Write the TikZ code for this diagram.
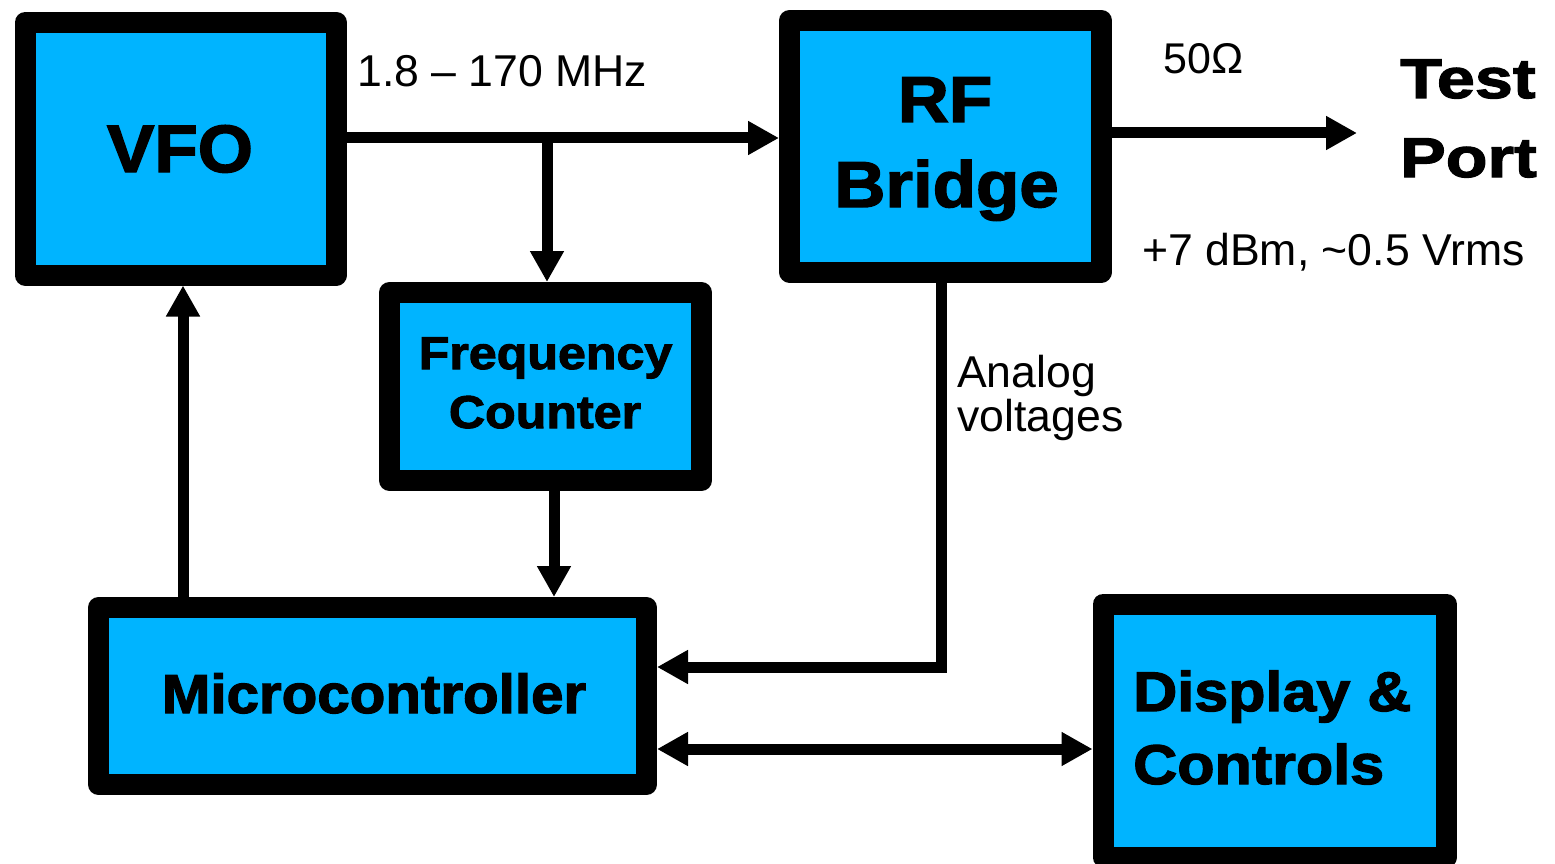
\documentclass[tikz,border=0pt]{standalone}
\usepackage{fontspec}
\setmainfont{Liberation Sans}
\newfontfamily\hvy{Liberation Sans Bold}[FakeStretch=1.06,FakeBold=2.2]
\newfontfamily\hvym{Liberation Sans Bold}[FakeStretch=1.09,FakeBold=2.2]
\newfontfamily\hvyw{Liberation Sans Bold}[FakeStretch=1.22,FakeBold=2.2]
\usetikzlibrary{arrows.meta,calc}
\definecolor{boxcyan}{RGB}{0,180,255}
\begin{document}
\begin{tikzpicture}[x=1pt,y=-1pt,
  blk/.style={draw=black, fill=boxcyan, line width=21pt, line join=round, rectangle, inner sep=0pt},
  conn/.style={line width=11pt, -{Triangle[length=31pt,width=32pt]}},
  dconn/.style={line width=11pt, {Triangle[length=31pt,width=32pt]}-{Triangle[length=31pt,width=32pt]}},
  hv/.style={inner sep=0pt, text=black},
  lbl/.style={inner sep=0pt, text=black, font=\fontsize{44.6}{50}\selectfont},
]
\useasboundingbox (0,0) rectangle (1555,864);
\clip (0,0) rectangle (1555,864);
\fill[white] (0,0) rectangle (1555,864);

% boxes
\node[blk, minimum width=311.5pt, minimum height=252.5pt] (vfo) at (180.75,148.75) {};
\node[blk, minimum width=312pt, minimum height=251.5pt] (rf) at (945.5,146.25) {};
\node[blk, minimum width=312pt, minimum height=188pt] (fc) at (545.5,386.5) {};
\node[blk, minimum width=548pt, minimum height=177pt] (mc) at (372.5,696) {};
\node[blk, minimum width=343.5pt, minimum height=253pt] (dc) at (1274.75,730.5) {};

% box texts
\node[hv, anchor=base, font=\hvy\fontsize{67}{67}\selectfont] (vfoT) at (180,172) {VFO};
\node[hv, anchor=base, font=\hvym\fontsize{65}{65}\selectfont] (rfT1) at (945,122) {RF};
\node[hv, anchor=base, font=\hvym\fontsize{65}{65}\selectfont] (rfT2) at (946.5,207) {Bridge};
\node[hv, anchor=base, font=\hvym\fontsize{46}{46}\selectfont] (fcT1) at (545.5,369) {Frequency};
\node[hv, anchor=base, font=\hvym\fontsize{46}{46}\selectfont] (fcT2) at (545,428) {Counter};
\node[hv, anchor=base, font=\hvy\fontsize{55}{55}\selectfont] (mcT) at (374,713) {Microcontroller};
\node[hv, anchor=base west, font=\hvym\fontsize{56}{56}\selectfont] (dcT1) at (1133,711) {Display \&};
\node[hv, anchor=base west, font=\hvym\fontsize{56}{56}\selectfont] (dcT2) at (1133,784) {Controls};
\node[hv, anchor=base west, font=\hvyw\fontsize{56}{56}\selectfont] (tpT1) at (1400,98) {Test};
\node[hv, anchor=base west, font=\hvyw\fontsize{56}{56}\selectfont] (tpT2) at (1400,177) {Port};

% labels
\node[lbl, anchor=base west] (freq) at (357,87) {1.8 – 170 MHz};
\node[lbl, anchor=base west, font=\fontsize{43}{43}\selectfont] (ohm) at (1163,74) {50Ω};
\node[lbl, anchor=base west] (pwr) at (1142,265) {+7 dBm, \textasciitilde 0.5 Vrms};
\node[lbl, anchor=base west] (an1) at (957,387) {Analog};
\node[lbl, anchor=base west] (an2) at (957,431) {voltages};

% connectors
\coordinate (j1) at (547,138);
\draw[conn] (vfo.east |- j1) -- (rf.west |- j1);
\draw[conn] (j1) -- (fc.north -| j1);
\draw[conn] ([xshift=8.5pt]fc.south) -- ([xshift=8.5pt]fc.south |- mc.north);
\draw[conn] ([xshift=2.25pt]vfo.south |- mc.north) -- ([xshift=2.25pt]vfo.south);
\coordinate (k) at (941,667);
\draw[conn] (rf.south -| k) -- (k) -- (mc.east |- k);
\coordinate (dy) at (800,749);
\draw[dconn] (mc.east |- dy) -- (dc.west |- dy);
\coordinate (tp) at (1357,133);
\draw[conn] (rf.east |- tp) -- (tp);
\end{tikzpicture}
\end{document}
